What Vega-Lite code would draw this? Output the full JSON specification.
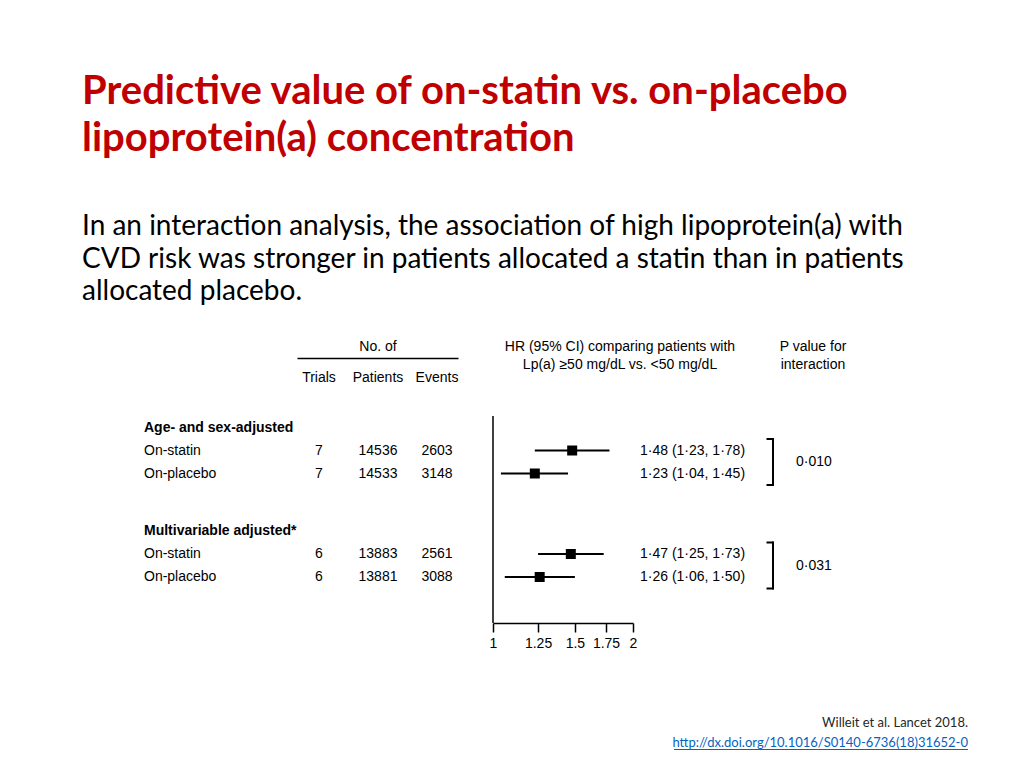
{
  "$schema": "https://vega.github.io/schema/vega-lite/v6.json",
  "width": 942,
  "height": 448,
  "padding": {"left": 82, "top": 320, "right": 0, "bottom": 0},
  "autosize": {"type": "none"},
  "background": "white",
  "config": {
    "view": {"stroke": null},
    "text": {"font": "Liberation Sans", "fontSize": 14, "color": "black"},
    "tick": {"color": "black", "opacity": 1}
  },
  "title": {
    "text": ["Predictive value of on-statin vs. on-placebo", "lipoprotein(a) concentration"],
    "subtitle": ["In an interaction analysis, the association of high lipoprotein(a) with", "CVD risk was stronger in patients allocated a statin than in patients", "allocated placebo."],
    "anchor": "start",
    "frame": "group",
    "orient": "top",
    "font": "Lato",
    "fontSize": 40,
    "fontWeight": "bold",
    "color": "#C00000",
    "lineHeight": 47,
    "subtitleFont": "Lato",
    "subtitleFontSize": 28,
    "subtitleColor": "black",
    "subtitleLineHeight": 32.5,
    "subtitlePadding": 54,
    "offset": 14
  },
  "datasets": {
    "rows": [
      {"row": "age_statin", "group": "Age- and sex-adjusted", "label": "On-statin", "Trials": 7, "Patients": 14536, "Events": 2603, "hr": 1.48, "lo": 1.23, "hi": 1.78, "estimate": "1·48 (1·23, 1·78)"},
      {"row": "age_placebo", "group": "Age- and sex-adjusted", "label": "On-placebo", "Trials": 7, "Patients": 14533, "Events": 3148, "hr": 1.23, "lo": 1.04, "hi": 1.45, "estimate": "1·23 (1·04, 1·45)"},
      {"row": "mv_statin", "group": "Multivariable adjusted*", "label": "On-statin", "Trials": 6, "Patients": 13883, "Events": 2561, "hr": 1.47, "lo": 1.25, "hi": 1.73, "estimate": "1·47 (1·25, 1·73)"},
      {"row": "mv_placebo", "group": "Multivariable adjusted*", "label": "On-placebo", "Trials": 6, "Patients": 13881, "Events": 3088, "hr": 1.26, "lo": 1.06, "hi": 1.5, "estimate": "1·26 (1·06, 1·50)"}
    ],
    "groups": [
      {"row": "age", "group": "Age- and sex-adjusted", "p": "0·010", "p_row": "age_p", "from": "age_top", "to": "age_bottom"},
      {"row": "mv", "group": "Multivariable adjusted*", "p": "0·031", "p_row": "mv_p", "from": "mv_top", "to": "mv_bottom"}
    ]
  },
  "resolve": {"scale": {"x": "independent"}},
  "layer": [
    {
      "layer": [
        {
          "data": {"name": "groups"},
          "mark": {"type": "text", "align": "left", "baseline": "middle", "fontWeight": "bold"},
          "encoding": {
            "x": {"datum": "label", "type": "nominal", "scale": {"type": "point", "domain": ["label"], "range": [62, 62], "padding": 0}, "axis": null},
            "y": {"field": "row", "type": "nominal", "axis": null, "scale": {"type": "point", "padding": 0, "range": [27, 429.5], "domain": ["header", "rule", "_2", "colnames", "_4", "_5", "plottop", "age", "age_top", "age_statin", "age_p", "age_placebo", "age_bottom", "_13", "_14", "plotmid", "mv", "mv_top", "mv_statin", "mv_p", "mv_placebo", "mv_bottom", "_22", "_23", "axis", "_25", "_26", "_27", "_28", "_29", "_30", "_31", "_32", "cite", "link", "underline"]}},
            "text": {"field": "group"}
          }
        },
        {
          "data": {"name": "rows"},
          "mark": {"type": "text", "align": "left", "baseline": "middle"},
          "encoding": {
            "x": {"datum": "label", "type": "nominal", "axis": null},
            "y": {"field": "row", "type": "nominal", "axis": null},
            "text": {"field": "label"}
          }
        }
      ]
    },
    {
      "layer": [
        {
          "data": {"name": "rows"},
          "transform": [{"fold": ["Trials", "Patients", "Events"], "as": ["column", "count"]}],
          "mark": {"type": "text", "align": "center", "baseline": "middle"},
          "encoding": {
            "x": {"field": "column", "type": "nominal", "scale": {"type": "point", "domain": ["Trials", "Patients", "Events"], "range": [237, 355], "padding": 0}, "axis": null},
            "y": {"field": "row", "type": "nominal", "axis": null},
            "text": {"field": "count", "type": "quantitative", "format": "d"}
          }
        },
        {
          "data": {"values": [{"column": "Trials"}, {"column": "Patients"}, {"column": "Events"}]},
          "mark": {"type": "text", "align": "center", "baseline": "alphabetic"},
          "encoding": {
            "x": {"field": "column", "type": "nominal", "axis": null},
            "y": {"datum": "colnames", "type": "nominal", "axis": null},
            "text": {"field": "column"}
          }
        },
        {
          "data": {"values": [{"heading": "No. of"}]},
          "mark": {"type": "text", "align": "center", "baseline": "middle"},
          "encoding": {
            "x": {"datum": "Patients", "type": "nominal", "axis": null},
            "y": {"datum": "header", "type": "nominal", "axis": null},
            "text": {"field": "heading"}
          }
        },
        {
          "data": {"values": [{"heading": "No. of"}]},
          "mark": {"type": "tick", "orient": "horizontal", "size": 161, "thickness": 1.5},
          "encoding": {
            "x": {"datum": "Patients", "type": "nominal", "axis": null},
            "y": {"datum": "rule", "type": "nominal", "axis": null}
          }
        }
      ]
    },
    {
      "layer": [
        {
          "data": {"values": [{"reference": 1}]},
          "mark": {"type": "tick", "orient": "vertical", "size": 207, "thickness": 1.5},
          "encoding": {
            "x": {"field": "reference", "type": "quantitative", "scale": {"type": "log", "domain": [1, 2], "range": [411, 551], "nice": false},
              "axis": {"values": [1, 1.25, 1.5, 1.75, 2], "format": "~g", "offset": -145, "title": null, "grid": false, "domainColor": "black", "domainWidth": 1.5, "tickColor": "black", "tickWidth": 1.5, "tickSize": 9, "labelColor": "black", "labelFont": "Liberation Sans", "labelFontSize": 14, "labelPadding": 4, "labelFlush": false, "labelOverlap": false}},
            "y": {"datum": "plotmid", "type": "nominal", "axis": null}
          }
        },
        {
          "data": {"name": "rows"},
          "mark": {"type": "rule", "strokeWidth": 2, "color": "black"},
          "encoding": {
            "x": {"field": "lo", "type": "quantitative"},
            "x2": {"field": "hi"},
            "y": {"field": "row", "type": "nominal", "axis": null}
          }
        },
        {
          "data": {"name": "rows"},
          "mark": {"type": "point", "shape": "square", "filled": true, "size": 100, "opacity": 1, "color": "black"},
          "encoding": {
            "x": {"field": "hr", "type": "quantitative"},
            "y": {"field": "row", "type": "nominal", "axis": null}
          }
        }
      ]
    },
    {
      "layer": [
        {
          "data": {"values": [{"heading": "HR (95% CI) comparing patients with\nLp(a) ≥50 mg/dL vs. <50 mg/dL"}]},
          "mark": {"type": "text", "align": "center", "baseline": "middle", "lineBreak": "\n", "lineHeight": 18},
          "encoding": {
            "x": {"datum": "heading", "type": "nominal", "scale": {"type": "point", "domain": ["heading", "estimate"], "range": [538, 558], "padding": 0}, "axis": null},
            "y": {"datum": "header", "type": "nominal", "axis": null},
            "text": {"field": "heading"}
          }
        },
        {
          "data": {"name": "rows"},
          "mark": {"type": "text", "align": "left", "baseline": "middle"},
          "encoding": {
            "x": {"datum": "estimate", "type": "nominal", "axis": null},
            "y": {"field": "row", "type": "nominal", "axis": null},
            "text": {"field": "estimate"}
          }
        }
      ]
    },
    {
      "data": {"name": "groups"},
      "layer": [
        {
          "mark": {"type": "tick", "orient": "vertical", "size": 48, "thickness": 2},
          "encoding": {
            "x": {"datum": "bar", "type": "nominal", "scale": {"type": "point", "domain": ["arm", "bar"], "range": [688, 691], "padding": 0}, "axis": null},
            "y": {"field": "p_row", "type": "nominal", "axis": null}
          }
        },
        {
          "transform": [{"fold": ["from", "to"], "as": ["end", "slot"]}],
          "mark": {"type": "tick", "orient": "horizontal", "size": 7, "thickness": 2},
          "encoding": {
            "x": {"datum": "arm", "type": "nominal", "axis": null},
            "y": {"field": "slot", "type": "nominal", "axis": null}
          }
        }
      ]
    },
    {
      "layer": [
        {
          "data": {"values": [{"heading": "P value for\ninteraction"}]},
          "mark": {"type": "text", "align": "center", "baseline": "middle", "lineBreak": "\n", "lineHeight": 18},
          "encoding": {
            "x": {"datum": "heading", "type": "nominal", "scale": {"type": "point", "domain": ["p", "heading"], "range": [714, 731], "padding": 0}, "axis": null},
            "y": {"datum": "header", "type": "nominal", "axis": null},
            "text": {"field": "heading"}
          }
        },
        {
          "data": {"name": "groups"},
          "mark": {"type": "text", "align": "left", "baseline": "middle"},
          "encoding": {
            "x": {"datum": "p", "type": "nominal", "axis": null},
            "y": {"field": "p_row", "type": "nominal", "axis": null},
            "text": {"field": "p"}
          }
        }
      ]
    },
    {
      "data": {"values": [{"source": "Willeit et al. Lancet 2018.", "link": "http://dx.doi.org/10.1016/S0140-6736(18)31652-0"}]},
      "layer": [
        {
          "mark": {"type": "text", "align": "right", "baseline": "alphabetic", "font": "Lato", "fontSize": 13, "color": "#262626"},
          "encoding": {
            "x": {"datum": "end", "type": "nominal", "scale": {"type": "point", "domain": ["center", "end"], "range": [739, 886], "padding": 0}, "axis": null},
            "y": {"datum": "cite", "type": "nominal", "axis": null},
            "text": {"field": "source"}
          }
        },
        {
          "mark": {"type": "text", "align": "right", "baseline": "bottom", "font": "Lato", "fontSize": 13, "color": "#0563C1"},
          "encoding": {
            "x": {"datum": "end", "type": "nominal", "axis": null},
            "y": {"datum": "underline", "type": "nominal", "axis": null},
            "text": {"field": "link"}
          }
        },
        {
          "mark": {"type": "tick", "orient": "horizontal", "size": 294, "thickness": 1, "color": "#0563C1"},
          "encoding": {
            "x": {"datum": "center", "type": "nominal", "axis": null},
            "y": {"datum": "underline", "type": "nominal", "axis": null}
          }
        }
      ]
    }
  ]
}
